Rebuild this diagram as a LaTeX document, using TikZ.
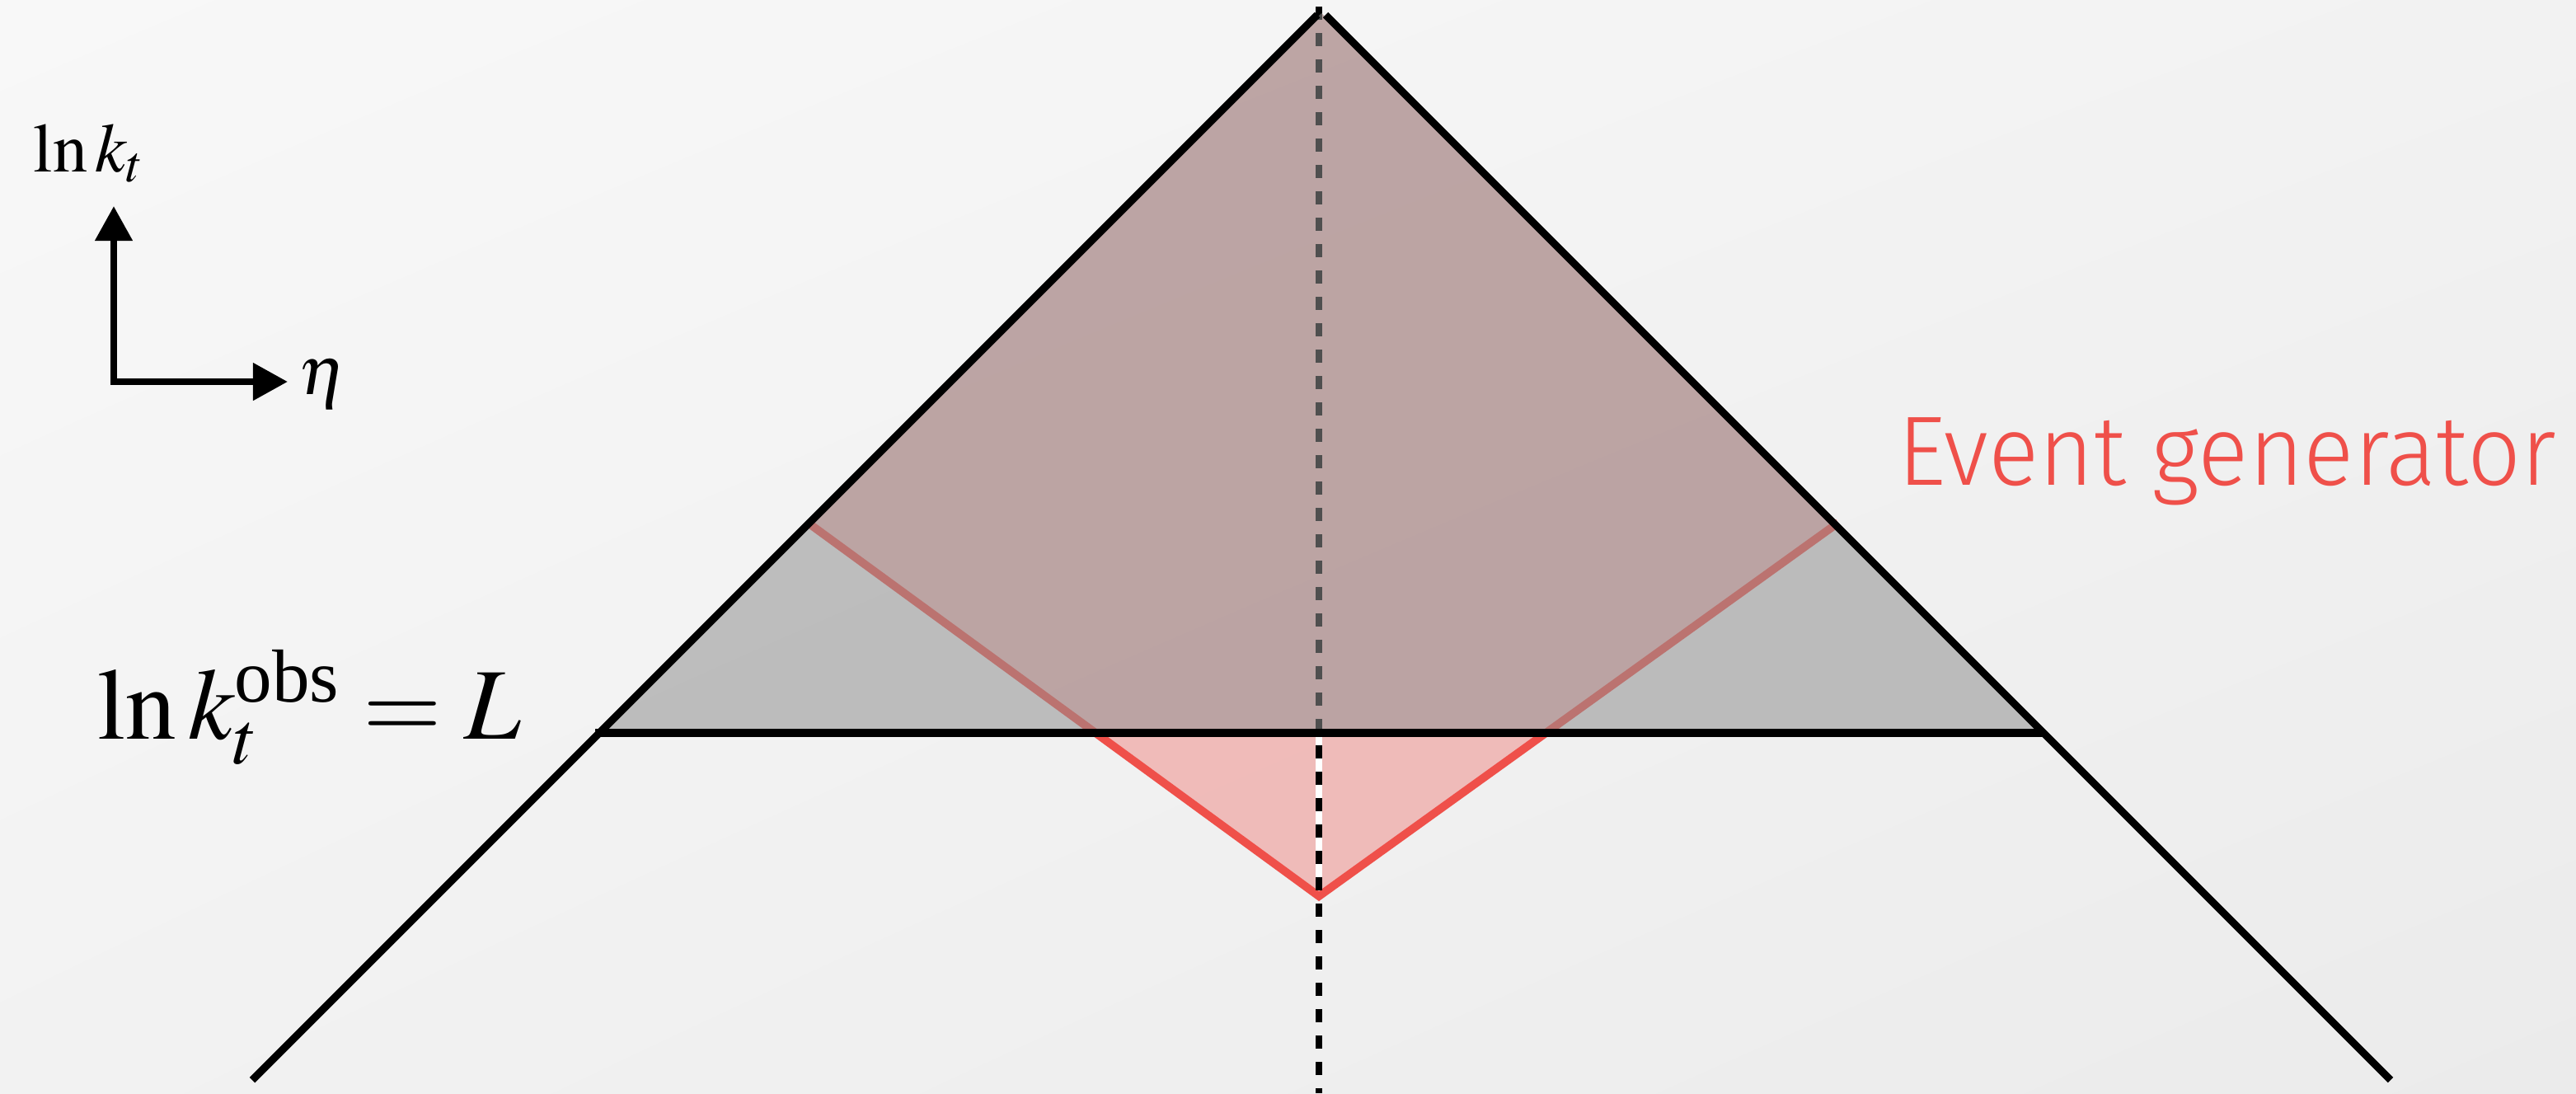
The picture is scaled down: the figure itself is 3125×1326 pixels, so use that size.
\documentclass[tikz,border=0pt]{standalone}
\usepackage{amsmath}
\usepackage{fontspec}
\usepackage{mathptmx}
\setmainfont{Liberation Serif}
\newfontfamily\egfont[FakeStretch=0.955]{Fira Sans Light}
\usetikzlibrary{arrows.meta, shadings}

\definecolor{egred}{RGB}{239,80,74}
\definecolor{shadegray}{RGB}{145,145,145}
\definecolor{bgtl}{RGB}{248,248,248}
\definecolor{bgmid}{RGB}{242,242,242}
\definecolor{bgbr}{RGB}{235,235,235}

\tikzset{
  ktline/.style={black, line width=2.6pt},
  genline/.style={egred, line width=2.8pt},
  axis/.style={<->, line width=2.4pt, >={Triangle[length=12pt,width=12.5pt]}},
  lab/.style={inner sep=0pt, anchor=base west}
}

\begin{document}
\begin{tikzpicture}[x=0.01cm, y=-0.01cm]
  \useasboundingbox (0,0) rectangle (3125,1326);
  % background
  \shade[upper left=bgtl, upper right=bgmid, lower left=bgmid, lower right=bgbr] (0,0) rectangle (3125,1326);

  % corner points of the plane
  \coordinate (apex) at (1603,16);
  \coordinate (ltop) at (1598,18);
  \coordinate (rtop) at (1608,18);
  \coordinate (lfoot) at (306,1310);
  \coordinate (rfoot) at (2900,1310);
  \coordinate (cutl) at (722,889);
  \coordinate (cutr) at (2480,889);
  \coordinate (cutmid) at (1600,889);
  % event generator region
  \coordinate (genl) at (980,634);
  \coordinate (genr) at (2230,634);
  \coordinate (genb) at (1600,1087);
  \coordinate (dtop) at (1600,8);
  \coordinate (dbot) at (1600,1326);

  % generator diamond
  \fill[egred, opacity=0.33] (apex) -- (genr) -- (genb) -- (genl) -- cycle;
  \draw[white, line width=2.2pt] (cutmid) -- (genb);
  \draw[genline] (genl) -- (genb) -- (genr);

  % central dashed line
  \draw[black, line width=2.3pt, dash pattern=on 4.5pt off 4.6pt] (dtop) -- (dbot);

  % region above the cut
  \fill[shadegray, opacity=0.55] (apex) -- (737,884) -- (2470,884) -- cycle;

  % lund plane edges and cut
  \draw[ktline] (ltop) -- (lfoot);
  \draw[ktline] (rtop) -- (rfoot);
  \draw[ktline] (cutl) -- (cutr);

  % axes
  \coordinate (orig) at (138,463);
  \coordinate (ytip) at (138,250);
  \coordinate (xtip) at (349,463);
  \draw[axis] (ytip) -- (orig) -- (xtip);
  \node[lab, font=\fontsize{24}{24}\selectfont] (ylab) at (40,208) {$\ln k_t$};
  \node[lab, font=\fontsize{24}{24}\selectfont] (xlab) at (362,478) {$\eta$};

  % labels
  \node[lab, font=\fontsize{35}{35}\selectfont] (cutlab) at (118,896) {$\ln k_t^{\text{obs}} = L$};
  \node[lab, text=egred, font=\egfont\fontsize{34}{34}\selectfont] (genlab) at (2302,588) {Event generator};
\end{tikzpicture}
\end{document}
